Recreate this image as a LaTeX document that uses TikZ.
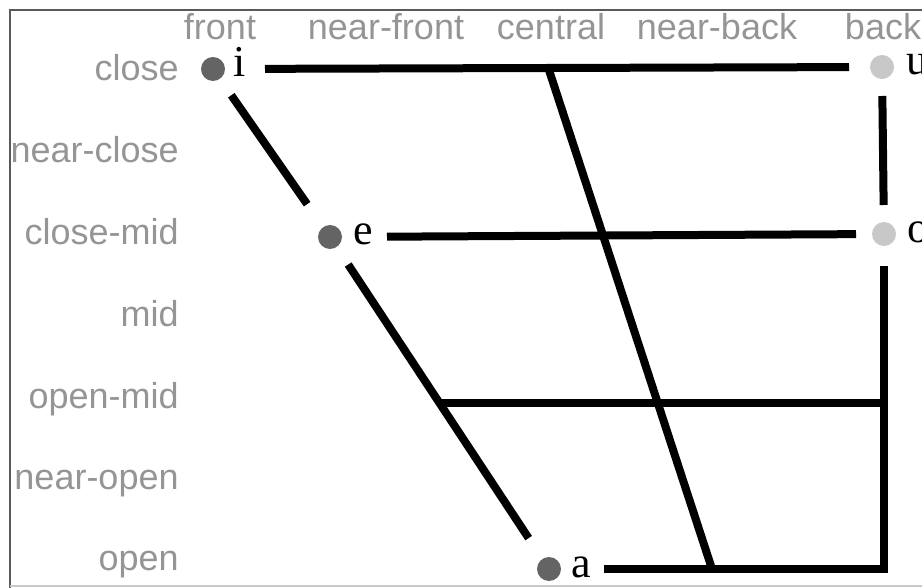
\documentclass[tikz,border=0pt]{standalone}
\usepackage{fontspec}
\setmainfont{Liberation Serif}
\setsansfont{Liberation Sans}
\usetikzlibrary{positioning, calc}

\definecolor{labgray}{HTML}{959595}
\definecolor{darkdot}{HTML}{646464}
\definecolor{lightdot}{HTML}{C8C8C8}
\definecolor{framegray}{HTML}{5A5A5A}

\begin{document}
\begin{tikzpicture}[x=0.5pt, y=-0.5pt,
    bar/.style={line width=4pt, line cap=butt, line join=miter},
    rowlab/.style={anchor=base east, inner sep=0pt, text=labgray, font=\sffamily\fontsize{18}{20}\selectfont},
    collab/.style={anchor=base, inner sep=0pt, text=labgray, font=\sffamily\fontsize{18}{20}\selectfont},
    vdot/.style={circle, inner sep=0pt, minimum size=12pt, fill=#1},
    vlet/.style={anchor=base, inner sep=0pt, font=\fontsize{22}{24}\selectfont}]
  \useasboundingbox (0,0) rectangle (922,588);
  \draw[framegray, line width=1pt] (10,590) -- (10,10) -- (925,10);
  \draw[lightdot, line width=0.6pt] (10,586) -- (925,586);

  \foreach \lab/\y [count=\k] in {close/81, near-close/163, close-mid/245, mid/327,
      open-mid/409, near-open/489, open/570}
    \node[rowlab] (row\k) at (179,\y) {\lab};
  \foreach \lab/\x [count=\k] in {front/220, near-front/386, central/551,
      near-back/717, back/883}
    \node[collab] (col\k) at (\x,40) {\lab};

  \node[vdot=darkdot] (idot) at (213,69) {};
  \node[vlet] (i) at (240,77) {i};
  \node[vdot=darkdot] (edot) at (330,237) {};
  \node[vlet] (e) at (363,245) {e};
  \node[vdot=darkdot] (adot) at (549,569) {};
  \node[vlet] (a) at (581,577) {a};
  \node[vdot=lightdot] (udot) at (882,67) {};
  \node[vlet] (u) at (917,75) {u};
  \node[vdot=lightdot] (odot) at (884,234) {};
  \node[vlet] (o) at (918,243) {o};

  \coordinate (corner) at (884,569);
  \coordinate (ctop) at (548,67);
  \coordinate (cbot) at (712,569);
  \coordinate (omL) at (439,403);
  \coordinate (omR) at (omL -| corner);

  \draw[bar, shorten <=26pt, shorten >=16.5pt] (idot.center) -- (udot.center);
  \draw[bar, shorten <=28.5pt, shorten >=14pt] (edot.center) -- (odot.center);
  \draw[bar] (omL) -- (omR);
  \draw[bar, shorten <=14.5pt, shorten >=14.5pt] (udot.center) -- (odot.center);
  \draw[bar, shorten <=16pt, shorten >=27.5pt] (odot.center) -- (corner) -- (adot.center);
  \draw[bar, shorten <=16pt, shorten >=20pt] (idot.center) -- (edot.center);
  \draw[bar, shorten <=16.5pt, shorten >=18.5pt] (edot.center) -- (adot.center);
  \draw[bar] (ctop) -- (cbot);
\end{tikzpicture}
\end{document}
